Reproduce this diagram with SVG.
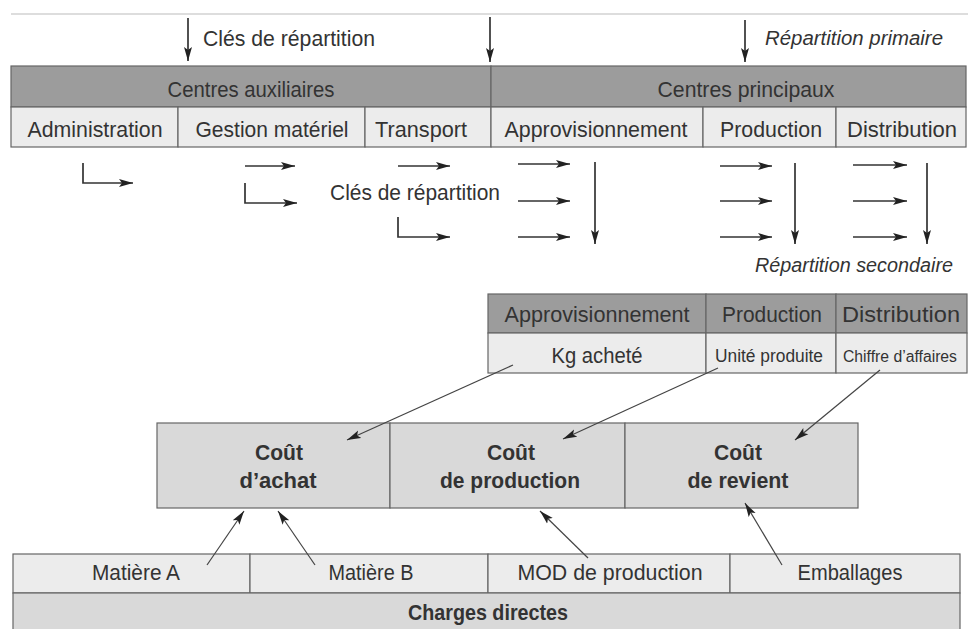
<svg xmlns="http://www.w3.org/2000/svg" width="970" height="629" viewBox="0 0 970 629">
<defs>
<style>
text{font-family:"Liberation Sans",Arial,sans-serif;fill:#333;font-size:22px}
.c{text-anchor:middle}
.i{font-style:italic}
.b{font-weight:bold}
.s{font-size:18px}
.dark{fill:#9c9c9c;stroke:#666;stroke-width:1.2}
.light{fill:#ececec;stroke:#666;stroke-width:1.2}
.cost{fill:#d9d9d9;stroke:#666;stroke-width:1.2}
.arr{stroke:#333;stroke-width:1.7;fill:none;marker-end:url(#ah)}
.diag{stroke:#444;stroke-width:1.2;fill:none;marker-end:url(#ah)}
</style>
<marker id="ah" markerWidth="14" markerHeight="9" refX="14" refY="4.5" orient="auto" markerUnits="userSpaceOnUse">
<path d="M0,0.5 L14,4.5 L0,8.5 L3,4.5 z" fill="#222"/>
</marker>
</defs>
<rect width="970" height="629" fill="#fff"/>
<line x1="11" y1="14" x2="968" y2="14" stroke="#bbb" stroke-width="1"/>

<g id="labels-top">
<text x="203" y="46" textLength="172" lengthAdjust="spacingAndGlyphs">Clés de répartition</text>
<text x="765" y="45" class="i" style="font-size:20px" textLength="178" lengthAdjust="spacingAndGlyphs">Répartition primaire</text>
<text x="330" y="200" textLength="170" lengthAdjust="spacingAndGlyphs">Clés de répartition</text>
<text x="755" y="272" class="i" style="font-size:20px" textLength="198" lengthAdjust="spacingAndGlyphs">Répartition secondaire</text>
</g>

<g id="centres-auxiliaires">
<rect x="11" y="66" width="480" height="41" class="dark"/>
<text x="251" y="97" class="c" textLength="167" lengthAdjust="spacingAndGlyphs">Centres auxiliaires</text>
</g>
<g id="centres-principaux">
<rect x="491" y="66" width="475" height="41" class="dark"/>
<text x="746" y="97" class="c" textLength="177" lengthAdjust="spacingAndGlyphs">Centres principaux</text>
</g>
<g id="administration">
<rect x="11" y="107" width="167" height="40" class="light"/>
<text x="95" y="137" class="c" textLength="135" lengthAdjust="spacingAndGlyphs">Administration</text>
</g>
<g id="gestion-materiel">
<rect x="178" y="107" width="187" height="40" class="light"/>
<text x="272" y="137" class="c" textLength="153" lengthAdjust="spacingAndGlyphs">Gestion matériel</text>
</g>
<g id="transport">
<rect x="365" y="107" width="126" height="40" class="light"/>
<text x="421" y="137" class="c" textLength="92" lengthAdjust="spacingAndGlyphs">Transport</text>
</g>
<g id="approvisionnement">
<rect x="491" y="107" width="212" height="40" class="light"/>
<text x="596" y="137" class="c" textLength="183" lengthAdjust="spacingAndGlyphs">Approvisionnement</text>
</g>
<g id="production">
<rect x="703" y="107" width="133" height="40" class="light"/>
<text x="771" y="137" class="c" textLength="102" lengthAdjust="spacingAndGlyphs">Production</text>
</g>
<g id="distribution">
<rect x="836" y="107" width="130" height="40" class="light"/>
<text x="902" y="137" class="c" textLength="110" lengthAdjust="spacingAndGlyphs">Distribution</text>
</g>

<g id="uo-approvisionnement">
<rect x="488" y="294" width="218" height="39" class="dark"/>
<text x="597" y="322" class="c" textLength="185" lengthAdjust="spacingAndGlyphs">Approvisionnement</text>
<rect x="488" y="333" width="218" height="40" class="light"/>
<text x="597" y="363" class="c" textLength="91" lengthAdjust="spacingAndGlyphs">Kg acheté</text>
</g>
<g id="uo-production">
<rect x="706" y="294" width="130" height="39" class="dark"/>
<text x="772" y="322" class="c" textLength="100" lengthAdjust="spacingAndGlyphs">Production</text>
<rect x="706" y="333" width="130" height="40" class="light"/>
<text x="769" y="362" class="c s" textLength="108" lengthAdjust="spacingAndGlyphs">Unité produite</text>
</g>
<g id="uo-distribution">
<rect x="836" y="294" width="131" height="39" class="dark"/>
<text x="901" y="322" class="c" textLength="118" lengthAdjust="spacingAndGlyphs">Distribution</text>
<rect x="836" y="333" width="131" height="40" class="light"/>
<text x="900" y="362" class="c" style="font-size:16px" textLength="114" lengthAdjust="spacingAndGlyphs">Chiffre d’affaires</text>
</g>

<g id="cout-achat">
<rect x="157" y="423" width="233" height="85" class="cost"/>
<text x="279" y="460" class="c b" textLength="48" lengthAdjust="spacingAndGlyphs">Coût</text>
<text x="278" y="488" class="c b" textLength="77" lengthAdjust="spacingAndGlyphs">d’achat</text>
</g>
<g id="cout-production">
<rect x="390" y="423" width="235" height="85" class="cost"/>
<text x="511" y="460" class="c b" textLength="48" lengthAdjust="spacingAndGlyphs">Coût</text>
<text x="510" y="488" class="c b" textLength="140" lengthAdjust="spacingAndGlyphs">de production</text>
</g>
<g id="cout-revient">
<rect x="625" y="423" width="233" height="85" class="cost"/>
<text x="738" y="460" class="c b" textLength="48" lengthAdjust="spacingAndGlyphs">Coût</text>
<text x="738" y="488" class="c b" textLength="101" lengthAdjust="spacingAndGlyphs">de revient</text>
</g>

<g id="matiere-a">
<rect x="13" y="554" width="237" height="39" class="light"/>
<text x="136" y="580" class="c" textLength="88" lengthAdjust="spacingAndGlyphs">Matière A</text>
</g>
<g id="matiere-b">
<rect x="250" y="554" width="238" height="39" class="light"/>
<text x="371" y="580" class="c" textLength="85" lengthAdjust="spacingAndGlyphs">Matière B</text>
</g>
<g id="mod-production">
<rect x="488" y="554" width="242" height="39" class="light"/>
<text x="610" y="580" class="c" textLength="185" lengthAdjust="spacingAndGlyphs">MOD de production</text>
</g>
<g id="emballages">
<rect x="730" y="554" width="230" height="39" class="light"/>
<text x="850" y="580" class="c" textLength="105" lengthAdjust="spacingAndGlyphs">Emballages</text>
</g>
<g id="charges-directes">
<rect x="13" y="593" width="947" height="40" class="cost"/>
<text x="488" y="620" class="c b" textLength="160" lengthAdjust="spacingAndGlyphs">Charges directes</text>
</g>

<g id="connectors">
<line x1="188" y1="18" x2="188" y2="61" class="arr"/>
<line x1="490" y1="17" x2="490" y2="62" class="arr"/>
<line x1="745" y1="20" x2="745" y2="62" class="arr"/>

<polyline points="83,163 83,183 133,183" class="arr"/>
<line x1="245" y1="166" x2="295" y2="166" class="arr"/>
<polyline points="245,183 245,203 297,203" class="arr"/>
<line x1="398" y1="166" x2="450" y2="166" class="arr"/>
<polyline points="398,217 398,237 450,237" class="arr"/>

<line x1="518" y1="164" x2="570" y2="164" class="arr"/>
<line x1="518" y1="201" x2="570" y2="201" class="arr"/>
<line x1="518" y1="237" x2="570" y2="237" class="arr"/>
<line x1="595" y1="162" x2="595" y2="244" class="arr"/>

<line x1="720" y1="166" x2="772" y2="166" class="arr"/>
<line x1="720" y1="201" x2="772" y2="201" class="arr"/>
<line x1="720" y1="237" x2="772" y2="237" class="arr"/>
<line x1="795" y1="163" x2="795" y2="244" class="arr"/>

<line x1="853" y1="165" x2="907" y2="165" class="arr"/>
<line x1="853" y1="201" x2="907" y2="201" class="arr"/>
<line x1="853" y1="237" x2="907" y2="237" class="arr"/>
<line x1="927" y1="163" x2="927" y2="244" class="arr"/>

<line x1="513" y1="365" x2="347" y2="440" class="diag"/>
<line x1="718" y1="368" x2="563" y2="439" class="diag"/>
<line x1="880" y1="370" x2="795" y2="440" class="diag"/>

<line x1="207" y1="565" x2="244" y2="511" class="diag"/>
<line x1="315" y1="565" x2="278" y2="511" class="diag"/>
<line x1="588" y1="558" x2="540" y2="511" class="diag"/>
<line x1="782" y1="565" x2="745" y2="503" class="diag"/>
</g>
</svg>
